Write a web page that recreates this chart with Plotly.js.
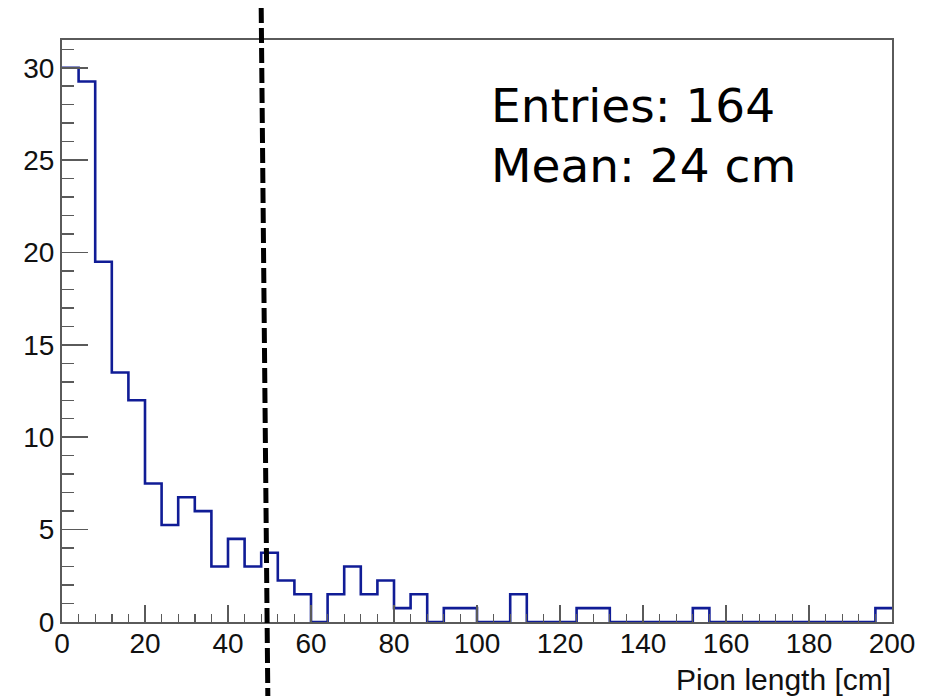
<!DOCTYPE html>
<html>
<head>
<meta charset="utf-8">
<script src="https://cdn.plot.ly/plotly-3.0.1.min.js"></script>
<style>html,body{margin:0;padding:0;background:#fff;}#chart{width:935px;height:696px;}</style>
</head>
<body>
<div id="chart"></div>
<script>
// Histogram: pion length, 4 cm bins from 0 to 200 cm
const binLow = 0;
const binWidth = 4;
const binContents = [
  30, 29.25, 19.5, 13.5, 12, 7.5, 5.25, 6.75, 6, 3,
  4.5, 3, 3.75, 2.25, 1.5, 0, 1.5, 3, 1.5, 2.25,
  0.75, 1.5, 0, 0.75, 0.75, 0, 0, 1.5, 0, 0,
  0, 0.75, 0.75, 0, 0, 0, 0, 0, 0.75, 0,
  0, 0, 0, 0, 0, 0, 0, 0, 0, 0.75
];
const xTickVals = [0, 20, 40, 60, 80, 100, 120, 140, 160, 180, 200];
const yTickVals = [0, 5, 10, 15, 20, 25, 30];
const statLines = ["Entries: 164", "Mean: 24 cm"];
const xTitle = "Pion length [cm]";
const cutValueTop = 48.0;     // hand-drawn cut line (slightly slanted)
const cutValueBottom = 49.6;

// Build step outline from bin edges
const stepX = [], stepY = [];
binContents.forEach((v, i) => { stepX.push(binLow + i * binWidth); stepY.push(v); });
stepX.push(binLow + binContents.length * binWidth);
stepY.push(binContents[binContents.length - 1]);

const trace = {
  x: stepX, y: stepY, type: 'scatter', mode: 'lines',
  line: {shape: 'hv', color: '#101c96', width: 2.6},
  hoverinfo: 'skip', showlegend: false
};

const axisCommon = {
  showgrid: false, zeroline: false, showline: true, mirror: true,
  linecolor: '#5a5a5a', linewidth: 2,
  ticks: 'inside', tickcolor: '#5a5a5a', tickwidth: 1.6,
  tickfont: {family: 'Liberation Sans, Arial, sans-serif', size: 28, color: '#111'},
  tickmode: 'array'
};

const layout = {
  width: 935, height: 696,
  margin: {l: 62, r: 43, t: 40, b: 74},
  paper_bgcolor: '#fff', plot_bgcolor: '#fff',
  xaxis: Object.assign({}, axisCommon, {
    range: [0, 200], tickvals: xTickVals, ticktext: xTickVals.map(String),
    ticklen: 17, ticklabelstandoff: -5,
    minor: {dtick: 4, tick0: 0, ticks: 'inside', ticklen: 8, tickcolor: '#5a5a5a', tickwidth: 1.4, showgrid: false}
  }),
  yaxis: Object.assign({}, axisCommon, {
    range: [0, 31.5], tickvals: yTickVals, ticktext: yTickVals.map(String),
    ticklen: 26, ticklabelstandoff: 0,
    minor: {dtick: 1, tick0: 0, ticks: 'inside', ticklen: 12, tickcolor: '#5a5a5a', tickwidth: 1.4, showgrid: false}
  }),
  shapes: [{
    type: 'line', xref: 'x', yref: 'paper',
    x0: cutValueTop, y0: 1.055, x1: cutValueBottom, y1: -0.13,
    line: {color: '#000', width: 5, dash: '15px,5px'}
  }],
  annotations: [
    {text: statLines[0], xref: 'paper', yref: 'paper', x: 0.515, y: 0.887,
     xanchor: 'left', yanchor: 'middle', showarrow: false,
     font: {family: 'DejaVu Sans, sans-serif', size: 47, color: '#000'}},
    {text: statLines[1], xref: 'paper', yref: 'paper', x: 0.515, y: 0.784,
     xanchor: 'left', yanchor: 'middle', showarrow: false,
     font: {family: 'DejaVu Sans, sans-serif', size: 47, color: '#000'}},
    {text: xTitle, xref: 'paper', yref: 'paper', x: 1.0, y: 0, yshift: -57,
     xanchor: 'right', yanchor: 'middle', showarrow: false, borderpad: 0,
     font: {family: 'Liberation Sans, Arial, sans-serif', size: 30, color: '#111'}}
  ]
};

Plotly.newPlot('chart', [trace], layout, {displayModeBar: false, staticPlot: true});
</script>
</body>
</html>
